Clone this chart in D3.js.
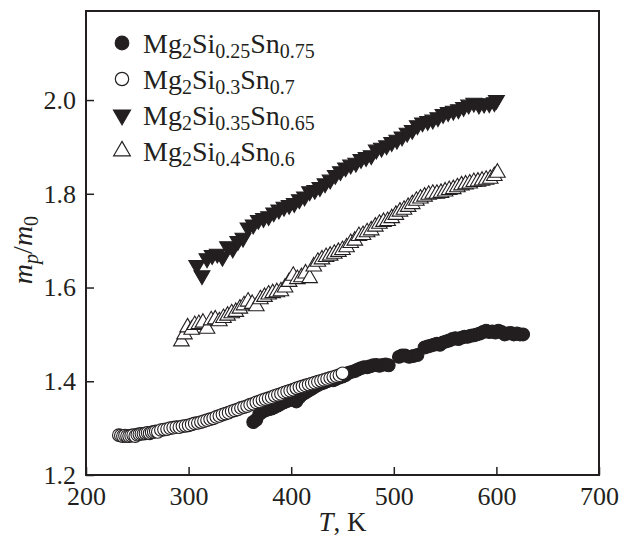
<!DOCTYPE html>
<html>
<head>
<meta charset="utf-8">
<script src="https://cdn.jsdelivr.net/npm/d3@7"></script>
<style>
  body { margin: 0; background: #fff; }
  svg text { font-family: "Liberation Serif", "Times New Roman", serif; fill: #231f20; }
</style>
</head>
<body>
<div id="chart"></div>
<script>
// Mg2Si(x)Sn(1-x): hole effective mass ratio vs temperature
var xTicks = [200, 300, 400, 500, 600, 700];
var yTicks = [1.2, 1.4, 1.6, 1.8, 2.0];

var s025T = [363, 366, 369, 372, 375, 378, 381, 384, 387, 390, 393, 396, 399, 402, 405, 408, 411, 414, 417, 420, 423, 426, 429, 432, 435, 438, 441, 444, 447, 450, 453, 456, 459, 462, 465, 468, 471, 474, 477, 480, 483, 486, 489, 492, 495, 505, 508, 511, 515, 519, 523, 530, 533, 536, 539, 542, 545, 548, 551, 554, 557, 560, 563, 566, 569, 572, 575, 578, 581, 584, 587, 590, 593, 596, 599, 602, 605, 608, 611, 614, 617, 620, 623, 626];
var s025V = [1.313, 1.318, 1.33, 1.335, 1.338, 1.34, 1.342, 1.345, 1.348, 1.352, 1.355, 1.358, 1.36, 1.362, 1.357, 1.366, 1.372, 1.376, 1.38, 1.384, 1.388, 1.392, 1.395, 1.397, 1.4, 1.403, 1.402, 1.405, 1.408, 1.41, 1.413, 1.418, 1.42, 1.422, 1.425, 1.428, 1.43, 1.43, 1.432, 1.434, 1.435, 1.433, 1.435, 1.436, 1.434, 1.452, 1.455, 1.455, 1.452, 1.454, 1.456, 1.472, 1.474, 1.476, 1.478, 1.48, 1.478, 1.483, 1.485, 1.487, 1.49, 1.492, 1.49, 1.493, 1.495, 1.495, 1.497, 1.498, 1.5, 1.502, 1.505, 1.508, 1.505, 1.506, 1.504, 1.508, 1.505, 1.5, 1.502, 1.503, 1.5, 1.502, 1.5, 1.5];

var s030T = [232, 234, 236, 238, 240, 242, 244, 246, 248, 250, 252, 254, 256, 258, 260, 262, 264, 266, 268, 270, 273, 276, 279, 282, 285, 288, 291, 294, 297, 300, 303, 306, 309, 312, 315, 318, 321, 324, 327, 330, 333, 336, 339, 342, 345, 348, 351, 354, 357, 360, 363, 366, 369, 372, 375, 378, 381, 384, 387, 390, 393, 396, 399, 402, 405, 408, 411, 414, 417, 420, 423, 426, 429, 432, 435, 438, 441, 444, 447, 450];
var s030V = [1.285, 1.284, 1.283, 1.284, 1.283, 1.283, 1.284, 1.285, 1.283, 1.286, 1.287, 1.288, 1.288, 1.289, 1.29, 1.289, 1.291, 1.292, 1.293, 1.292, 1.296, 1.297, 1.298, 1.3, 1.301, 1.302, 1.302, 1.304, 1.305, 1.306, 1.308, 1.31, 1.311, 1.313, 1.315, 1.317, 1.319, 1.321, 1.324, 1.326, 1.329, 1.331, 1.333, 1.336, 1.338, 1.34, 1.343, 1.345, 1.347, 1.35, 1.352, 1.355, 1.357, 1.36, 1.362, 1.364, 1.366, 1.369, 1.371, 1.373, 1.376, 1.378, 1.38, 1.382, 1.385, 1.387, 1.389, 1.391, 1.393, 1.395, 1.397, 1.399, 1.401, 1.403, 1.405, 1.407, 1.409, 1.411, 1.413, 1.417];

var s035T = [308, 313, 318, 323, 328, 333, 338, 343, 348, 353, 358, 363, 368, 373, 378, 383, 388, 393, 398, 403, 408, 413, 418, 423, 428, 433, 438, 443, 448, 453, 458, 463, 468, 473, 478, 483, 488, 493, 498, 503, 508, 513, 518, 523, 528, 533, 538, 543, 548, 553, 558, 563, 568, 573, 578, 583, 588, 593, 598, 600];
var s035V = [1.648, 1.626, 1.662, 1.669, 1.672, 1.665, 1.688, 1.683, 1.699, 1.706, 1.728, 1.734, 1.744, 1.748, 1.752, 1.76, 1.766, 1.772, 1.776, 1.78, 1.788, 1.794, 1.805, 1.808, 1.814, 1.822, 1.83, 1.84, 1.848, 1.856, 1.862, 1.866, 1.874, 1.878, 1.882, 1.894, 1.898, 1.903, 1.91, 1.915, 1.922, 1.93, 1.936, 1.946, 1.952, 1.955, 1.958, 1.963, 1.97, 1.974, 1.977, 1.98, 1.985, 1.99, 1.994, 1.99, 1.992, 1.993, 1.995, 2.0];

var s040T = [293, 296, 299, 303, 306, 310, 314, 318, 322, 326, 330, 334, 338, 342, 346, 350, 354, 358, 362, 366, 370, 374, 378, 382, 386, 390, 394, 398, 402, 406, 410, 414, 418, 422, 426, 430, 434, 438, 442, 446, 450, 454, 458, 462, 466, 470, 474, 478, 482, 486, 490, 494, 498, 502, 506, 510, 514, 518, 522, 526, 530, 534, 538, 542, 546, 550, 554, 558, 562, 566, 570, 574, 578, 582, 586, 590, 594, 598, 601];
var s040V = [1.485, 1.5, 1.515, 1.51, 1.52, 1.522, 1.525, 1.512, 1.53, 1.532, 1.528, 1.535, 1.54, 1.545, 1.548, 1.555, 1.562, 1.57, 1.565, 1.56, 1.575, 1.58, 1.585, 1.588, 1.59, 1.592, 1.6, 1.612, 1.625, 1.618, 1.622, 1.63, 1.62, 1.645, 1.655, 1.66, 1.665, 1.668, 1.672, 1.676, 1.68, 1.686, 1.695, 1.7, 1.71, 1.712, 1.718, 1.722, 1.73, 1.736, 1.74, 1.742, 1.748, 1.755, 1.762, 1.766, 1.772, 1.778, 1.785, 1.79, 1.794, 1.798, 1.8, 1.8, 1.802, 1.805, 1.808, 1.81, 1.814, 1.818, 1.82, 1.822, 1.825, 1.826, 1.828, 1.83, 1.832, 1.838, 1.845];

var ink = "#231f20";
var width = 625, height = 540;
var margin = { top: 11, right: 26, bottom: 65, left: 86 };
var chartWidth = width - margin.left - margin.right;
var chartHeight = height - margin.top - margin.bottom;

var svg = d3.select("#chart").append("svg")
  .attr("width", width)
  .attr("height", height);

var g = svg.append("g")
  .attr("transform", `translate(${margin.left}, ${margin.top})`);

var xScale = d3.scaleLinear().domain([200, 700]).range([0, chartWidth]);
var yScale = d3.scaleLinear().domain([1.2, 2.19]).range([chartHeight, 0]);

var xAxis = d3.axisBottom(xScale).tickValues(xTicks).tickSizeInner(-8).tickSizeOuter(0).tickPadding(8);
var yAxis = d3.axisLeft(yScale).tickValues(yTicks).tickSizeInner(-8).tickSizeOuter(0).tickPadding(10)
  .tickFormat(d3.format(".1f"));

var gx = g.append("g").attr("class", "x axis")
  .attr("transform", `translate(0, ${chartHeight})`)
  .call(xAxis);
var gy = g.append("g").attr("class", "y axis").call(yAxis);

[gx, gy].forEach(a => {
  a.select(".domain").remove();
  a.selectAll("line").attr("stroke", ink).attr("stroke-width", 1.5);
  a.selectAll("text").attr("font-size", 26).attr("fill", ink)
    .attr("font-family", "Liberation Serif, serif");
});
gx.selectAll("text").attr("dy", "0.85em");

g.append("rect")
  .attr("width", chartWidth)
  .attr("height", chartHeight)
  .attr("fill", "none")
  .attr("stroke", ink)
  .attr("stroke-width", 2);

var series = [
  { name: "0.25", t: s025T, v: s025V, shape: d3.symbolCircle, size: 130, fill: ink, rot: 0 },
  { name: "0.3", t: s030T, v: s030V, shape: d3.symbolCircle, size: 125, fill: "#fff", rot: 0 },
  { name: "0.35", t: s035T, v: s035V, shape: d3.symbolTriangle, size: 110, fill: ink, rot: 180 },
  { name: "0.4", t: s040T, v: s040V, shape: d3.symbolTriangle, size: 105, fill: "#fff", rot: 0 }
];

var points = g.append("g").attr("class", "points");
series.forEach(s => {
  var sym = d3.symbol().type(s.shape).size(s.size);
  points.append("g")
    .selectAll("path")
    .data(s.t.map((t, i) => ({ t: t, v: s.v[i] })))
    .enter()
    .append("path")
    .attr("d", sym)
    .attr("transform", d => `translate(${xScale(d.t)}, ${yScale(d.v)}) rotate(${s.rot})`)
    .attr("fill", s.fill)
    .attr("stroke", ink)
    .attr("stroke-width", 1.1);
});

// legend
var legendRows = [
  { si: "0.25", sn: "0.75" },
  { si: "0.3", sn: "0.7" },
  { si: "0.35", sn: "0.65" },
  { si: "0.4", sn: "0.6" }
];
var legend = svg.append("g").attr("class", "legend");
legendRows.forEach((r, i) => {
  var s = series[i];
  var y = 43 + i * 36;
  legend.append("path")
    .attr("d", d3.symbol().type(s.shape).size(s.size + 15))
    .attr("transform", `translate(122, ${y}) rotate(${s.rot})`)
    .attr("fill", s.fill)
    .attr("stroke", ink)
    .attr("stroke-width", 1.2);
  var t = legend.append("text")
    .attr("x", 143)
    .attr("y", y + 10)
    .attr("font-size", 28);
  t.append("tspan").text("Mg");
  t.append("tspan").attr("font-size", 20).attr("dy", 5).text("2");
  t.append("tspan").attr("dy", -5).text("Si");
  t.append("tspan").attr("font-size", 20).attr("dy", 5).text(r.si);
  t.append("tspan").attr("dy", -5).text("Sn");
  t.append("tspan").attr("font-size", 20).attr("dy", 5).text(r.sn);
});

// axis titles
var xt = svg.append("text")
  .attr("x", margin.left + xScale(450))
  .attr("y", 531)
  .attr("text-anchor", "middle")
  .attr("font-size", 27);
xt.append("tspan").attr("font-style", "italic").text("T");
xt.append("tspan").text(", K");

var yt = svg.append("text")
  .attr("transform", `translate(32, 250) rotate(-90)`)
  .attr("text-anchor", "middle")
  .attr("font-size", 28);
yt.append("tspan").attr("font-style", "italic").text("m");
yt.append("tspan").attr("font-style", "italic").attr("font-size", 20).attr("dy", 6).text("p");
yt.append("tspan").attr("dy", -6).text("/");
yt.append("tspan").attr("font-style", "italic").text("m");
yt.append("tspan").attr("font-size", 20).attr("dy", 6).text("0");
</script>
</body>
</html>
